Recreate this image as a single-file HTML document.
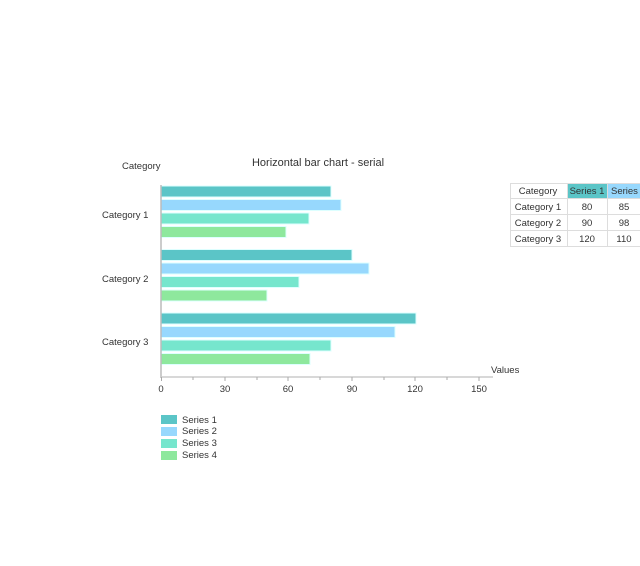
<!DOCTYPE html>
<html><head><style>
body{margin:0;background:#fff;}
svg text{font-family:"Liberation Sans",sans-serif;font-size:9.5px;fill:#333;}
</style></head><body>
<svg width="640" height="561" xmlns="http://www.w3.org/2000/svg">
<text x="318" y="166" text-anchor="middle" style="font-size:11px">Horizontal bar chart - serial</text>
<text x="122" y="169">Category</text>
<text x="102" y="218">Category 1</text>
<text x="102" y="282">Category 2</text>
<text x="102" y="345">Category 3</text>
<g stroke="#dff" stroke-width="1">
<rect x="161" y="186" width="170" height="11" fill="#5bc5c7"/>
<rect x="161" y="199.5" width="180" height="11" fill="#97d8fd"/>
<rect x="161" y="213" width="148" height="11" fill="#76e6cd"/>
<rect x="161" y="226.5" width="125" height="11" fill="#8ee89d"/>
<rect x="161" y="249.5" width="191" height="11" fill="#5bc5c7"/>
<rect x="161" y="263" width="208" height="11" fill="#97d8fd"/>
<rect x="161" y="276.5" width="138" height="11" fill="#76e6cd"/>
<rect x="161" y="290" width="106" height="11" fill="#8ee89d"/>
<rect x="161" y="313" width="255" height="11" fill="#5bc5c7"/>
<rect x="161" y="326.5" width="234" height="11" fill="#97d8fd"/>
<rect x="161" y="340" width="170" height="11" fill="#76e6cd"/>
<rect x="161" y="353.5" width="149" height="11" fill="#8ee89d"/>
</g>
<line x1="161" y1="185" x2="161" y2="378" stroke="#bbb" stroke-width="1.5"/>
<line x1="161" y1="377" x2="493" y2="377" stroke="#ccc" stroke-width="1.5"/>
<g stroke="#aaa">
<line x1="161.5" y1="377" x2="161.5" y2="381"/><line x1="193" y1="377" x2="193" y2="380"/>
<line x1="225" y1="377" x2="225" y2="381"/><line x1="257" y1="377" x2="257" y2="380"/>
<line x1="288" y1="377" x2="288" y2="381"/><line x1="320" y1="377" x2="320" y2="380"/>
<line x1="352" y1="377" x2="352" y2="381"/><line x1="384" y1="377" x2="384" y2="380"/>
<line x1="415" y1="377" x2="415" y2="381"/><line x1="447" y1="377" x2="447" y2="380"/>
<line x1="479" y1="377" x2="479" y2="381"/>
</g>
<g text-anchor="middle">
<text x="161" y="392">0</text><text x="225" y="392">30</text><text x="288" y="392">60</text>
<text x="352" y="392">90</text><text x="415" y="392">120</text><text x="479" y="392">150</text>
</g>
<text x="491" y="373">Values</text>
<rect x="161" y="415" width="16" height="9" fill="#5bc5c7"/><text x="182" y="423">Series 1</text>
<rect x="161" y="427" width="16" height="9" fill="#97d8fd"/><text x="182" y="434">Series 2</text>
<rect x="161" y="439" width="16" height="9" fill="#76e6cd"/><text x="182" y="446">Series 3</text>
<rect x="161" y="451" width="16" height="9" fill="#8ee89d"/><text x="182" y="458">Series 4</text>
<g stroke="#ddd" fill="none">
<rect x="510.5" y="183.5" width="140" height="63"/>
<line x1="567.5" y1="183" x2="567.5" y2="247"/><line x1="607.5" y1="183" x2="607.5" y2="247"/>
<line x1="510" y1="198.5" x2="640" y2="198.5"/><line x1="510" y1="214.5" x2="640" y2="214.5"/><line x1="510" y1="230.5" x2="640" y2="230.5"/>
</g>
<rect x="568" y="184" width="39" height="14" fill="#5bc5c7"/>
<rect x="608" y="184" width="32" height="14" fill="#97d8fd"/>
<text x="538" y="194" text-anchor="middle">Category</text>
<text x="587" y="194" text-anchor="middle">Series 1</text>
<text x="611" y="194">Series 2</text>
<text x="538" y="210" text-anchor="middle">Category 1</text><text x="587" y="210" text-anchor="middle">80</text><text x="624" y="210" text-anchor="middle">85</text>
<text x="538" y="226" text-anchor="middle">Category 2</text><text x="587" y="226" text-anchor="middle">90</text><text x="624" y="226" text-anchor="middle">98</text>
<text x="538" y="242" text-anchor="middle">Category 3</text><text x="587" y="242" text-anchor="middle">120</text><text x="624" y="242" text-anchor="middle">110</text>
</svg>
</body></html>
